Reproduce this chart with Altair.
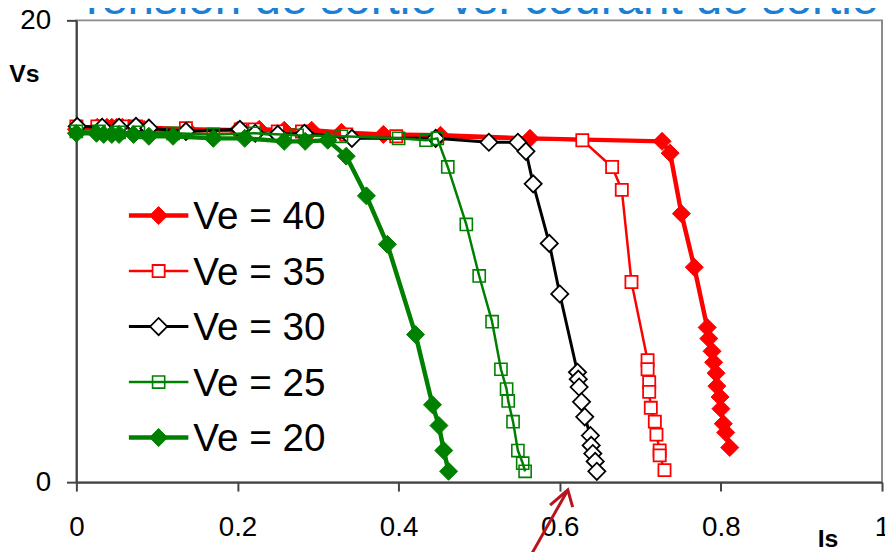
import altair as alt
import pandas as pd

# ---------------- data ----------------
labels = ["Ve = 40", "Ve = 35", "Ve = 30", "Ve = 25", "Ve = 20"]

ve40_x = [0.000, 0.026, 0.032, 0.038, 0.044, 0.050, 0.057, 0.065, 0.084, 0.139, 0.200, 0.227, 0.258,
          0.292, 0.329, 0.381, 0.452, 0.563, 0.727, 0.737, 0.751, 0.767, 0.783, 0.785, 0.789, 0.791,
          0.794, 0.795, 0.799, 0.800, 0.803, 0.806, 0.811]
ve40_y = [15.28, 15.37, 15.37, 15.37, 15.37, 15.37, 15.37, 15.33, 15.28, 15.24, 15.24, 15.28, 15.24,
          15.24, 15.15, 15.06, 15.02, 14.89, 14.76, 14.25, 11.63, 9.31, 6.70, 6.22, 5.67, 5.19,
          4.72, 4.16, 3.69, 3.18, 2.53, 2.15, 1.50]

ve35_x = [0.000, 0.026, 0.057, 0.074, 0.136, 0.204, 0.221, 0.250, 0.280, 0.335, 0.397, 0.628, 0.665,
          0.677, 0.689, 0.709, 0.709, 0.711, 0.711, 0.713, 0.718, 0.720, 0.724, 0.724, 0.730]
ve35_y = [15.41, 15.41, 15.41, 15.41, 15.33, 15.28, 15.28, 15.19, 15.19, 15.06, 14.98, 14.81, 13.65,
          12.66, 8.67, 5.28, 4.89, 4.33, 3.91, 3.22, 2.62, 2.06, 1.37, 1.16, 0.52]

ve30_x = [0.001, 0.032, 0.053, 0.074, 0.090, 0.136, 0.203, 0.222, 0.250, 0.283, 0.342, 0.446, 0.512,
          0.548, 0.558, 0.567, 0.587, 0.600, 0.622, 0.623, 0.624, 0.627, 0.631, 0.638, 0.639, 0.641,
          0.644, 0.646]
ve30_y = [15.41, 15.37, 15.37, 15.41, 15.33, 15.19, 15.28, 15.11, 15.06, 15.11, 14.89, 14.89, 14.72,
          14.72, 14.33, 12.92, 10.34, 8.15, 4.76, 4.46, 4.12, 3.48, 2.83, 2.02, 1.59, 1.24,
          0.90, 0.47]

ve25_x = [0.000, 0.028, 0.053, 0.077, 0.120, 0.170, 0.221, 0.274, 0.329, 0.400, 0.434, 0.448, 0.461,
          0.484, 0.500, 0.516, 0.527, 0.534, 0.536, 0.542, 0.548, 0.554, 0.557]
ve25_y = [15.19, 15.19, 15.15, 15.15, 15.11, 15.06, 15.11, 15.02, 14.98, 14.89, 14.81, 14.89, 13.65,
          11.16, 8.93, 6.95, 4.89, 4.03, 3.52, 2.62, 1.37, 0.82, 0.47]

ve20_x = [0.000, 0.025, 0.034, 0.044, 0.053, 0.071, 0.090, 0.120, 0.170, 0.209, 0.258, 0.284, 0.312,
          0.335, 0.360, 0.386, 0.421, 0.442, 0.450, 0.456, 0.462]
ve20_y = [15.11, 15.11, 15.06, 15.06, 15.06, 15.06, 14.98, 14.98, 14.89, 14.89, 14.76, 14.76, 14.81,
          14.12, 12.40, 10.30, 6.39, 3.35, 2.45, 1.37, 0.47]

x_ticks = [0, 0.2, 0.4, 0.6, 0.8, 1]
y_ticks = [0, 20]

title_text = "Tension de sortie vs. courant de sortie"
x_title = "Is"
y_title = "Vs"

# annotation arrow (data coordinates)
arrow_shaft_x = [0.562, 0.610]
arrow_shaft_y = [-3.3, -0.34]
arrow_head_x = [0.588, 0.610, 0.616]
arrow_head_y = [-1.00, -0.34, -1.08]

# ---------------- styles ----------------
FONT = "Liberation Sans"
styles = [
    dict(color="#FF0000", shape="diamond", filled=True, fill="#FF0000", lw=4.5, size=330, sw=1),
    dict(color="#FF0000", shape="square", filled=True, fill="#FFFFFF", lw=2.5, size=150, sw=1.8),
    dict(color="#000000", shape="diamond", filled=True, fill="#FFFFFF", lw=3, size=300, sw=1.8),
    dict(color="#008000", shape="square", filled=False, fill=None, lw=2.5, size=150, sw=1.6),
    dict(color="#008000", shape="diamond", filled=True, fill="#008000", lw=4.5, size=330, sw=1),
]
series_x = [ve40_x, ve35_x, ve30_x, ve25_x, ve20_x]
series_y = [ve40_y, ve35_y, ve30_y, ve25_y, ve20_y]

W, H = 813, 466

xscale = alt.Scale(domain=[0, 1], nice=False, zero=False)
yscale = alt.Scale(domain=[0, 20], nice=False, zero=False)

xaxis = alt.Axis(values=x_ticks, format="~g", grid=False, title=x_title,
                 titleAngle=0, titleX=758, titleY=57, titleAlign="center",
                 titleBaseline="middle", titleFontSize=25, titleFontWeight="bold",
                 titleFont=FONT, titleColor="#000000",
                 labelFontSize=28, labelFont=FONT, labelColor="#000000",
                 labelBaseline="middle", labelPadding=37, tickSize=9, tickWidth=2,
                 tickColor="#444444", domainColor="#444444", domainWidth=2,
                 labelFlush=False, labelOverlap=False)
yaxis = alt.Axis(values=y_ticks, format="d", grid=False, title=y_title,
                 titleAngle=0, titleX=-53, titleY=54, titleAlign="center",
                 titleBaseline="middle", titleFontSize=25, titleFontWeight="bold",
                 titleFont=FONT, titleColor="#000000",
                 labelFontSize=28, labelFont=FONT, labelColor="#000000",
                 labelPadding=16, tickSize=10, tickWidth=2,
                 tickColor="#444444", domainColor="#444444", domainWidth=2,
                 labelFlush=False, labelOverlap=False)


def xy():
    return dict(x=alt.X("x:Q", scale=xscale, axis=xaxis),
                y=alt.Y("y:Q", scale=yscale, axis=yaxis))


layers = []
for i, (lab, st) in enumerate(zip(labels, styles)):
    df = pd.DataFrame({"x": series_x[i], "y": series_y[i], "s": lab})
    line = alt.Chart(df).mark_line(color=st["color"], strokeWidth=st["lw"],
                                   strokeJoin="round").encode(**xy())
    if st["filled"]:
        pt = alt.Chart(df).mark_point(shape=st["shape"], filled=True, fill=st["fill"],
                                      stroke=st["color"], strokeWidth=st["sw"],
                                      size=st["size"], opacity=1).encode(**xy())
    else:
        pt = alt.Chart(df).mark_point(shape=st["shape"], filled=False, color=st["color"],
                                      strokeWidth=st["sw"], size=st["size"],
                                      opacity=1).encode(**xy())
    layers += [line, pt]

# ---------------- arrow annotation ----------------
shaft = pd.DataFrame({"x": arrow_shaft_x, "y": arrow_shaft_y, "o": [0, 1]})
head = pd.DataFrame({"x": arrow_head_x, "y": arrow_head_y, "o": [0, 1, 2]})
for d in (shaft, head):
    layers.append(alt.Chart(d).mark_line(color="#B8141E", strokeWidth=3, clip=False).encode(
        order="o:Q", **xy()))

# ---------------- legend (drawn inside the plot) ----------------
one = pd.DataFrame({"a": [0]})
leg_y0, leg_dy = 197, 56
for i, (lab, st) in enumerate(zip(labels, styles)):
    yy = leg_y0 + leg_dy * i
    layers.append(alt.Chart(one).mark_rule(color=st["color"], strokeWidth=st["lw"]).encode(
        x=alt.value(53), x2=alt.value(113), y=alt.value(yy)))
    if st["filled"]:
        layers.append(alt.Chart(one).mark_point(shape=st["shape"], filled=True, fill=st["fill"],
                                                stroke=st["color"], strokeWidth=st["sw"],
                                                size=st["size"], opacity=1).encode(
            x=alt.value(83), y=alt.value(yy)))
    else:
        layers.append(alt.Chart(one).mark_point(shape=st["shape"], filled=False, color=st["color"],
                                                strokeWidth=st["sw"], size=st["size"],
                                                opacity=1).encode(
            x=alt.value(83), y=alt.value(yy)))
    layers.append(alt.Chart(one).mark_text(text=lab, font=FONT, fontSize=39, align="left",
                                           baseline="middle", color="#000000").encode(
        x=alt.value(118), y=alt.value(yy + 2)))

# ---------------- title (partially cut at the top) ----------------
layers.append(alt.Chart(one).mark_text(text=title_text, font=FONT, fontSize=48, align="left",
                                       baseline="alphabetic", color="#1B7FD3").encode(
    x=alt.value(1), y=alt.value(-6)))

chart = alt.layer(*layers).properties(
    width=W, height=H,
    autosize=alt.AutoSizeParams(type="none"),
    padding={"left": 69, "top": 10, "right": 3, "bottom": 68},
    background="white",
).configure_view(stroke="#8A8A8A", strokeWidth=2)

chart.save("out.html", embed_options={"renderer": "svg", "actions": False})
